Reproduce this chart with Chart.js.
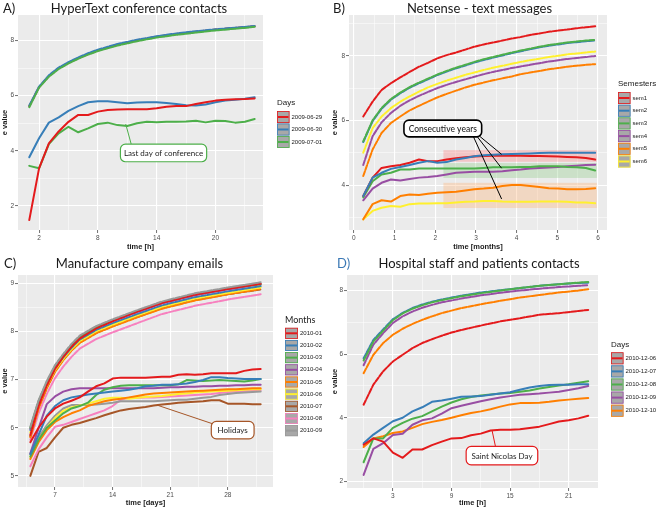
<!DOCTYPE html>
<html>
<head>
<meta charset="utf-8">
<script src="https://cdn.jsdelivr.net/npm/chart.js@4.4.0/dist/chart.umd.min.js"></script>
<style>
  html, body { margin: 0; padding: 0; background: #fff; }
  #wrap { position: relative; width: 660px; height: 510px; }
  #wrap canvas { position: absolute; }
</style>
</head>
<body>
<div id="wrap">
  <canvas id="cA" width="330" height="255" style="left:0;top:0"></canvas>
  <canvas id="cB" width="330" height="255" style="left:330px;top:0"></canvas>
  <canvas id="cC" width="330" height="255" style="left:0;top:255px"></canvas>
  <canvas id="cD" width="330" height="255" style="left:330px;top:255px"></canvas>
</div>
<script>
(() => {
  'use strict';

  // ===== Colores (Set1) =====
  const RED = '#E41A1C', BLUE = '#377EB8', GREEN = '#4DAF4A', PURPLE = '#984EA3',
        ORANGE = '#FF7F00', YELLOW = '#FFF02E', BROWN = '#A65628', PINK = '#F781BF', GREY = '#999999';

  // ===== A) HyperText =====
  const daysA = ['2009-06-29', '2009-06-30', '2009-07-01'];
  const hoursA = [1,2,3,4,5,6,7,8,9,10,11,12,13,14,15,16,17,18,19,20,21,22,23,24];
  const hoursAUp = [1,2,3,4,5,6,7,8,10,12,14,16,18,20,22,24];
  const a0629Up = [5.62,6.31,6.71,6.99,7.19,7.36,7.51,7.64,7.85,8.01,8.14,8.24,8.32,8.40,8.46,8.52];
  const a0630Up = [5.64,6.33,6.74,7.02,7.22,7.39,7.54,7.67,7.88,8.03,8.16,8.26,8.34,8.41,8.47,8.53];
  const a0701Up = [5.58,6.29,6.69,6.97,7.17,7.34,7.49,7.62,7.82,7.98,8.11,8.21,8.29,8.37,8.43,8.50];
  const a0629 = [1.48,3.36,4.27,4.70,5.05,5.30,5.30,5.42,5.48,5.50,5.51,5.51,5.51,5.54,5.60,5.62,5.62,5.70,5.76,5.82,5.85,5.87,5.88,5.90];
  const a0630 = [3.76,4.45,5.02,5.21,5.45,5.62,5.76,5.80,5.80,5.76,5.72,5.75,5.76,5.76,5.73,5.70,5.65,5.64,5.68,5.76,5.82,5.85,5.89,5.94];
  const a0701 = [3.45,3.36,4.24,4.63,4.87,4.67,4.81,4.97,5.02,4.93,4.90,5.00,5.05,5.03,5.05,5.05,5.06,5.09,5.03,5.09,5.08,5.02,5.05,5.15];

  // ===== B) Netsense =====
  const semB = ['sem1', 'sem2', 'sem3', 'sem4', 'sem5', 'sem6'];
  const monthsB = [0.23,0.46,0.68,0.91,1.14,1.37,1.60,1.82,2.05,2.28,2.51,2.74,2.96,3.19,3.42,3.65,3.88,4.10,4.33,4.56,4.79,5.02,5.24,5.47,5.70,5.93];
  const sem1Up = [6.12,6.58,6.94,7.15,7.33,7.50,7.66,7.78,7.92,8.02,8.10,8.19,8.28,8.35,8.41,8.47,8.53,8.58,8.64,8.69,8.74,8.78,8.81,8.85,8.88,8.91];
  const sem2Up = [5.33,5.98,6.36,6.64,6.84,7.01,7.15,7.27,7.40,7.51,7.61,7.70,7.79,7.87,7.94,8.01,8.08,8.14,8.20,8.26,8.31,8.35,8.39,8.42,8.45,8.47];
  const sem3Up = [5.35,6.00,6.38,6.66,6.86,7.03,7.17,7.29,7.42,7.53,7.63,7.72,7.81,7.89,7.96,8.03,8.10,8.16,8.22,8.28,8.33,8.37,8.41,8.44,8.47,8.49];
  const sem4Up = [4.62,5.51,5.94,6.23,6.45,6.62,6.76,6.88,7.00,7.10,7.19,7.27,7.35,7.43,7.50,7.56,7.62,7.67,7.72,7.77,7.82,7.86,7.90,7.93,7.96,7.99];
  const sem5Up = [4.28,5.10,5.61,5.92,6.12,6.31,6.45,6.58,6.71,6.82,6.92,7.02,7.10,7.17,7.24,7.30,7.36,7.43,7.48,7.53,7.58,7.62,7.66,7.69,7.72,7.74];
  const sem6Up = [5.00,5.76,6.12,6.38,6.58,6.74,6.89,7.02,7.13,7.23,7.32,7.41,7.48,7.56,7.63,7.69,7.75,7.81,7.86,7.91,7.96,8.00,8.04,8.07,8.10,8.13];
  const sem1 = [3.66,4.23,4.53,4.58,4.62,4.69,4.79,4.74,4.74,4.79,4.83,4.86,4.88,4.90,4.91,4.91,4.91,4.91,4.90,4.90,4.89,4.88,4.87,4.86,4.84,4.79];
  const sem2 = [3.66,4.23,4.38,4.50,4.56,4.62,4.69,4.74,4.69,4.71,4.79,4.84,4.89,4.92,4.94,4.95,4.96,4.97,4.98,4.99,5.00,5.00,5.00,5.00,5.00,5.00];
  const sem3 = [3.62,4.12,4.33,4.38,4.48,4.48,4.51,4.51,4.51,4.51,4.51,4.51,4.51,4.53,4.55,4.55,4.55,4.56,4.56,4.58,4.58,4.58,4.56,4.55,4.53,4.45];
  const sem4 = [3.53,3.89,4.07,4.17,4.14,4.19,4.23,4.25,4.28,4.33,4.38,4.40,4.41,4.41,4.41,4.43,4.46,4.48,4.51,4.53,4.54,4.56,4.58,4.60,4.62,4.63];
  const sem5 = [2.94,3.41,3.53,3.49,3.66,3.71,3.69,3.73,3.76,3.78,3.79,3.83,3.87,3.89,3.92,3.97,4.00,4.00,3.97,3.94,3.90,3.89,3.87,3.87,3.88,3.90];
  const sem6 = [2.94,3.20,3.30,3.35,3.33,3.41,3.43,3.43,3.44,3.44,3.46,3.48,3.49,3.51,3.51,3.49,3.48,3.48,3.48,3.49,3.49,3.49,3.48,3.46,3.46,3.44];

  // ===== C) Manufacture emails =====
  const monthsC = ['2010-01','2010-02','2010-03','2010-04','2010-05','2010-06','2010-07','2010-08','2010-09'];
  const daysC = [4,5,6,7,8,9,10,11,12,13,14,15,16,17,18,19,20,21,22,23,24,25,26,27,28,29,30,31,32];
  const daysCUp = [4,5,6,7,8,9,10,12,14,17,20,24,28,32];
  const c01Up = [5.85,6.45,6.88,7.22,7.47,7.68,7.85,8.06,8.21,8.41,8.59,8.76,8.88,8.99];
  const c02Up = [5.95,6.50,6.90,7.23,7.46,7.66,7.83,8.03,8.17,8.36,8.54,8.71,8.83,8.94];
  const c03Up = [6.00,6.55,6.95,7.28,7.51,7.72,7.89,8.09,8.23,8.42,8.60,8.77,8.89,8.98];
  const c04Up = [5.98,6.53,6.93,7.26,7.49,7.70,7.87,8.07,8.21,8.40,8.58,8.75,8.87,8.98];
  const c05Up = [5.80,6.40,6.82,7.16,7.40,7.60,7.76,7.96,8.10,8.29,8.47,8.64,8.77,8.88];
  const c06Up = [5.90,6.48,6.88,7.20,7.43,7.63,7.80,8.00,8.14,8.33,8.51,8.68,8.80,8.91];
  const c07Up = [5.82,6.42,6.83,7.17,7.41,7.61,7.77,7.97,8.11,8.30,8.48,8.65,8.77,8.87];
  const c08Up = [5.75,6.30,6.70,7.03,7.27,7.47,7.64,7.84,7.98,8.17,8.36,8.53,8.66,8.77];
  const c09Up = [6.02,6.57,6.97,7.30,7.53,7.74,7.91,8.11,8.25,8.44,8.62,8.79,8.91,9.02];
  const c01 = [5.70,6.00,6.23,6.40,6.50,6.56,6.63,6.75,6.86,6.92,7.02,7.04,7.04,7.04,7.04,7.05,7.06,7.06,7.10,7.11,7.10,7.11,7.13,7.13,7.13,7.13,7.18,7.21,7.22];
  const c02 = [5.45,5.85,6.25,6.45,6.57,6.63,6.66,6.69,6.71,6.73,6.75,6.77,6.79,6.82,6.86,6.87,6.89,6.89,6.90,6.92,6.95,6.99,7.05,7.05,7.03,7.02,7.01,7.01,7.01];
  const c03 = [5.40,5.75,6.00,6.15,6.30,6.40,6.45,6.52,6.68,6.79,6.84,6.87,6.88,6.88,6.88,6.88,6.88,6.88,6.90,6.99,6.98,6.97,6.98,6.99,6.98,6.97,6.96,6.98,7.01];
  const c04 = [5.47,5.99,6.49,6.65,6.75,6.80,6.82,6.82,6.82,6.82,6.82,6.82,6.82,6.82,6.82,6.82,6.83,6.84,6.84,6.85,6.85,6.86,6.86,6.87,6.87,6.88,6.88,6.89,6.89];
  const c05 = [5.35,5.70,5.95,6.12,6.22,6.30,6.36,6.45,6.50,6.55,6.58,6.60,6.63,6.66,6.69,6.71,6.72,6.73,6.74,6.75,6.76,6.77,6.78,6.79,6.80,6.80,6.81,6.82,6.82];
  const c06 = [5.40,5.75,6.00,6.20,6.35,6.42,6.46,6.50,6.55,6.60,6.62,6.62,6.60,6.62,6.64,6.65,6.66,6.68,6.70,6.71,6.73,6.74,6.75,6.76,6.77,6.78,6.79,6.80,6.80];
  const c07 = [5.00,5.50,5.58,5.80,6.00,6.06,6.10,6.15,6.20,6.26,6.31,6.36,6.39,6.41,6.43,6.46,6.48,6.50,6.52,6.53,6.54,6.55,6.57,6.57,6.50,6.50,6.50,6.49,6.49];
  const c08 = [5.20,5.55,5.80,6.02,6.06,6.12,6.18,6.24,6.30,6.36,6.45,6.58,6.62,6.62,6.63,6.63,6.64,6.65,6.66,6.67,6.68,6.69,6.70,6.72,6.74,6.75,6.76,6.77,6.78];
  const c09 = [5.45,5.80,6.05,6.25,6.40,6.47,6.47,6.47,6.48,6.50,6.52,6.55,6.55,6.55,6.55,6.55,6.56,6.57,6.58,6.58,6.60,6.62,6.64,6.68,6.70,6.72,6.73,6.74,6.75];

  // ===== D) Hospital =====
  const daysD = ['2010-12-06','2010-12-07','2010-12-08','2010-12-09','2010-12-10'];
  const hoursD = [0,1,2,3,4,5,6,7,8,9,10,11,12,13,14,15,16,17,18,19,20,21,22,23];
  const hoursDUp = [0,1,2,3,4,5,6,7,8,9,10,12,14,16,18,20,22,23];
  const d06Up = [4.41,5.04,5.46,5.77,5.98,6.19,6.35,6.47,6.58,6.68,6.76,6.90,7.03,7.13,7.24,7.29,7.36,7.39];
  const d07Up = [5.87,6.45,6.78,7.10,7.30,7.45,7.56,7.65,7.72,7.78,7.84,7.94,8.01,8.08,8.15,8.20,8.24,8.25];
  const d08Up = [5.80,6.40,6.74,7.07,7.28,7.43,7.54,7.63,7.70,7.76,7.82,7.92,8.00,8.08,8.15,8.20,8.25,8.27];
  const d09Up = [5.65,6.30,6.66,6.98,7.19,7.34,7.46,7.55,7.63,7.69,7.75,7.85,7.93,8.00,8.06,8.11,8.15,8.17];
  const d10Up = [5.40,5.98,6.35,6.61,6.80,6.95,7.08,7.19,7.29,7.37,7.45,7.57,7.68,7.78,7.86,7.94,8.00,8.04];
  const d06 = [3.15,3.35,3.25,2.90,2.74,3.00,3.00,3.14,3.25,3.35,3.36,3.45,3.50,3.60,3.62,3.62,3.64,3.68,3.72,3.80,3.88,3.92,3.98,4.06];
  const d07 = [3.20,3.47,3.68,3.89,4.00,4.20,4.33,4.50,4.54,4.60,4.66,4.67,4.68,4.72,4.76,4.80,4.88,4.95,5.00,5.03,5.04,5.04,5.05,5.05];
  const d08 = [2.60,3.35,3.35,3.68,3.84,3.97,4.05,4.20,4.35,4.48,4.58,4.65,4.70,4.73,4.76,4.78,4.82,4.86,4.92,4.97,5.01,5.05,5.10,5.15];
  const d09 = [2.20,3.02,3.20,3.46,3.50,3.78,3.92,3.98,4.13,4.30,4.38,4.45,4.52,4.58,4.64,4.68,4.72,4.74,4.76,4.79,4.82,4.87,4.93,5.00];
  const d10 = [3.08,3.35,3.42,3.52,3.57,3.68,3.80,3.87,3.93,4.00,4.08,4.15,4.20,4.27,4.35,4.42,4.46,4.46,4.47,4.50,4.54,4.57,4.60,4.62];

  // ===== Helpers =====
  const line = (xs, ys, color, dashed) => ({
    data: xs.map((x, i) => ({ x, y: ys[i] })),
    borderColor: color,
    borderWidth: 2,
    borderDash: dashed ? [5, 1.5] : [],
    pointRadius: 0,
    fill: false
  });

  function axis(o){
    const major = o.major;
    const all = [...o.major, ...o.minor].sort((a, b) => a - b);
    const isMajor = c => !!c.tick && major.includes(c.tick.value);
    return {
      type: 'linear', position: o.pos, min: o.min, max: o.max,
      afterBuildTicks: s => { s.ticks = all.map(v => ({ value: v })); },
      afterFit: s => { if (o.pos === 'left') s.width = o.size; else s.height = o.size; },
      border: { display: false },
      grid: {
        color: '#FFFFFF',
        lineWidth: c => isMajor(c) ? 1.1 : 0.5,
        tickColor: c => isMajor(c) ? '#4D4D4D' : 'rgba(0,0,0,0)',
        tickLength: 3, tickWidth: 0.8
      },
      ticks: {
        autoSkip: false, maxRotation: 0, padding: 1, color: '#4D4D4D',
        font: { family: 'Liberation Sans', size: 6.5 },
        callback: v => major.includes(v) ? String(v) : ''
      },
      title: {
        display: true, text: o.title, color: '#1a1a1a',
        font: { family: 'Liberation Sans', size: 7.5, weight: 'bold', lineHeight: 1.2 },
        padding: o.tpad
      }
    };
  }

  function makeDeco(cfg){
    return {
      id: 'deco',
      beforeDraw(chart){
        const { ctx, chartArea: a } = chart;
        ctx.save();
        ctx.fillStyle = '#EBEBEB';
        ctx.fillRect(a.left, a.top, a.right - a.left, a.bottom - a.top);
        ctx.restore();
      },
      beforeDatasetsDraw(chart){
        if (!cfg.bands) return;
        const { ctx, scales: { x, y } } = chart;
        ctx.save();
        cfg.bands.forEach(b => {
          const x0 = x.getPixelForValue(b.x0), x1 = x.getPixelForValue(b.x1);
          const y0 = y.getPixelForValue(b.y1), y1 = y.getPixelForValue(b.y0);
          ctx.fillStyle = b.color;
          ctx.fillRect(x0, y0, x1 - x0, y1 - y0);
        });
        ctx.restore();
      },
      afterDatasetsDraw(chart){
        const n = cfg.note;
        const { ctx, scales: { x, y } } = chart;
        ctx.save();
        ctx.strokeStyle = n.color;
        ctx.lineWidth = 1;
        n.lines.forEach(l => {
          ctx.beginPath();
          ctx.moveTo(x.getPixelForValue(l[0]), y.getPixelForValue(l[1]));
          ctx.lineTo(x.getPixelForValue(l[2]), y.getPixelForValue(l[3]));
          ctx.stroke();
        });
        const bx0 = x.getPixelForValue(n.x0), bx1 = x.getPixelForValue(n.x1);
        const by0 = y.getPixelForValue(n.y1), by1 = y.getPixelForValue(n.y0);
        ctx.beginPath();
        ctx.roundRect(bx0, by0, bx1 - bx0, by1 - by0, 5);
        ctx.fillStyle = '#FFFFFF';
        ctx.fill();
        ctx.lineWidth = n.width;
        ctx.stroke();
        ctx.fillStyle = '#222';
        ctx.font = n.font;
        ctx.textAlign = 'center';
        ctx.textBaseline = 'middle';
        ctx.fillText(n.text, (bx0 + bx1) / 2, (by0 + by1) / 2 + 0.5);
        ctx.restore();
      },
      afterDraw(chart){
        const { ctx } = chart;
        ctx.save();
        ctx.textBaseline = 'middle';
        ctx.font = '13px Lato';
        ctx.textAlign = 'left';
        ctx.fillStyle = cfg.letterColor || '#1a1a1a';
        ctx.fillText(cfg.letter, cfg.letterX, cfg.titleY);
        ctx.fillStyle = '#1a1a1a';
        ctx.textAlign = 'center';
        ctx.fillText(cfg.title, cfg.titleX, cfg.titleY);

        // leyenda estilo ggplot
        const g = cfg.legend;
        ctx.textAlign = 'left';
        ctx.font = g.titleFont;
        ctx.fillText(g.title, g.x, g.titleY);
        ctx.font = '6px "Liberation Sans"';
        g.labels.forEach((lab, i) => {
          const cy = g.y0 + i * g.step;
          ctx.fillStyle = '#A8A8A8';
          ctx.fillRect(g.x, cy - g.h / 2, g.w, g.h);
          ctx.strokeStyle = g.colors[i];
          ctx.lineWidth = 0.8;
          ctx.strokeRect(g.x + 0.4, cy - g.h / 2 + 0.4, g.w - 0.8, g.h - 0.8);
          ctx.lineWidth = 2;
          ctx.beginPath();
          ctx.moveTo(g.x + 1, cy);
          ctx.lineTo(g.x + g.w - 1, cy);
          ctx.stroke();
          ctx.fillStyle = '#1a1a1a';
          ctx.fillText(lab, g.x + g.w + 2, cy);
        });
        ctx.restore();
      }
    };
  }

  function makePanel(id, cfg){
    return new Chart(document.getElementById(id), {
      type: 'line',
      data: { datasets: cfg.datasets },
      options: {
        responsive: false, animation: false, events: [],
        layout: { padding: cfg.pad },
        plugins: { legend: { display: false }, tooltip: { enabled: false }, title: { display: false } },
        elements: { line: { tension: 0, borderCapStyle: 'round', borderJoinStyle: 'round' } },
        scales: { x: axis(cfg.x), y: axis(cfg.y) }
      },
      plugins: [makeDeco(cfg)]
    });
  }

  // ===== A =====
  const colA = [RED, BLUE, GREEN];
  makePanel('cA', {
    letter: 'A)', letterX: 3, title: 'HyperText conference contacts', titleX: 139, titleY: 9,
    pad: { left: 0, top: 15, right: 67, bottom: 0 },
    x: { pos: 'bottom', min: -0.15, max: 24.85, major: [2,8,14,20], minor: [5,11,17,23], size: 25, title: 'time [h]', tpad: { top: 0, bottom: 3.5 } },
    y: { pos: 'left', min: 1.12, max: 8.93, major: [2,4,6,8], minor: [3,5,7], size: 18, title: 'e value', tpad: { top: 0.5, bottom: 0 } },
    datasets: [
      line(hoursA, a0629, RED), line(hoursA, a0630, BLUE), line(hoursA, a0701, GREEN),
      line(hoursAUp, a0701Up, GREEN, true), line(hoursAUp, a0630Up, BLUE, true), line(hoursAUp, a0629Up, RED, true)
    ],
    note: { text: 'Last day of conference', color: GREEN, width: 1.2, font: '8px Lato',
            x0: 10.3, x1: 19.1, y0: 3.6, y1: 4.24, lines: [[10.84, 4.97, 11.4, 4.24]] },
    legend: { title: 'Days', titleFont: '8px "Liberation Sans"', x: 277, titleY: 103, y0: 117, step: 12.5, w: 12.5, h: 12, labels: daysA, colors: colA }
  });

  // ===== B =====
  const colB = [RED, BLUE, GREEN, PURPLE, ORANGE, YELLOW];
  makePanel('cB', {
    letter: 'B)', letterX: 3, title: 'Netsense - text messages', titleX: 149.5, titleY: 9,
    pad: { left: 0, top: 15, right: 53, bottom: 0 },
    x: { pos: 'bottom', min: -0.12, max: 6.22, major: [0,1,2,3,4,5,6], minor: [0.5,1.5,2.5,3.5,4.5,5.5], size: 25, title: 'time [months]', tpad: { top: 0, bottom: 3.2 } },
    y: { pos: 'left', min: 2.61, max: 9.26, major: [4,6,8], minor: [3,5,7,9], size: 19, title: 'e value', tpad: { top: 0.5, bottom: 0 } },
    bands: [
      { x0: 2.2, x1: 5.97, y0: 4.72, y1: 5.08, color: 'rgba(255,120,120,0.32)' },
      { x0: 2.2, x1: 5.97, y0: 4.22, y1: 4.68, color: 'rgba(130,200,120,0.30)' },
      { x0: 2.2, x1: 5.97, y0: 3.29, y1: 4.07, color: 'rgba(255,170,100,0.30)' }
    ],
    datasets: [
      line(monthsB, sem2, BLUE), line(monthsB, sem1, RED), line(monthsB, sem3, GREEN), line(monthsB, sem4, PURPLE),
      line(monthsB, sem5, ORANGE), line(monthsB, sem6, YELLOW),
      line(monthsB, sem1Up, RED, true), line(monthsB, sem3Up, GREEN, true), line(monthsB, sem2Up, BLUE, true),
      line(monthsB, sem6Up, YELLOW, true), line(monthsB, sem4Up, PURPLE, true), line(monthsB, sem5Up, ORANGE, true)
    ],
    note: { text: 'Consecutive years', color: '#000', width: 1.6, font: '500 8.5px Lato',
            x0: 1.23, x1: 3.14, y0: 5.49, y1: 6.01,
            lines: [[2.93, 5.52, 3.63, 3.57], [3.03, 5.5, 3.63, 4.52], [3.1, 5.5, 3.63, 4.95]] },
    legend: { title: 'Semesters', titleFont: '8px "Liberation Sans"', x: 288, titleY: 84, y0: 98, step: 12.7, w: 12.5, h: 12, labels: semB, colors: colB }
  });

  // ===== C =====
  const colC = [RED, BLUE, GREEN, PURPLE, ORANGE, YELLOW, BROWN, PINK, GREY];
  makePanel('cC', {
    letter: 'C)', letterX: 4, title: 'Manufacture company emails', titleX: 139.5, titleY: 8.5,
    pad: { left: 0, top: 20, right: 57, bottom: 0 },
    x: { pos: 'bottom', min: 2.5, max: 33.5, major: [7,14,21,28], minor: [3.5,10.5,17.5,24.5,31.5], size: 23, title: 'time [days]', tpad: { top: 0, bottom: 2.8 } },
    y: { pos: 'left', min: 4.77, max: 9.17, major: [5,6,7,8,9], minor: [5.5,6.5,7.5,8.5], size: 18, title: 'e value', tpad: { top: 0.5, bottom: 0 } },
    datasets: [
      line(daysC, c01, RED), line(daysC, c02, BLUE), line(daysC, c03, GREEN), line(daysC, c04, PURPLE),
      line(daysC, c05, ORANGE), line(daysC, c06, YELLOW), line(daysC, c09, GREY), line(daysC, c08, PINK), line(daysC, c07, BROWN),
      line(daysCUp, c09Up, GREY, true), line(daysCUp, c01Up, RED, true), line(daysCUp, c03Up, GREEN, true), line(daysCUp, c04Up, PURPLE, true),
      line(daysCUp, c02Up, BLUE, true), line(daysCUp, c06Up, YELLOW, true), line(daysCUp, c05Up, ORANGE, true),
      line(daysCUp, c07Up, BROWN, true), line(daysCUp, c08Up, PINK, true)
    ],
    note: { text: 'Holidays', color: BROWN, width: 1.2, font: '8px Lato',
            x0: 26.0, x1: 31.2, y0: 5.77, y1: 6.13, lines: [[19.4, 6.47, 26.2, 6.08]] },
    legend: { title: 'Months', titleFont: '9px Lato', x: 285, titleY: 65, y0: 78.3, step: 12.17, w: 13, h: 11, labels: monthsC, colors: colC }
  });

  // ===== D =====
  const colD = [RED, BLUE, GREEN, PURPLE, ORANGE];
  makePanel('cD', {
    letter: 'D)', letterX: 7, letterColor: '#3A78B5', title: 'Hospital staff and patients contacts', titleX: 149, titleY: 8.5,
    pad: { left: 0, top: 20, right: 62, bottom: 0 },
    x: { pos: 'bottom', min: -1.7, max: 24, major: [3,9,15,21], minor: [0,6,12,18,24], size: 22, title: 'time [h]', tpad: { top: 0, bottom: 2.2 } },
    y: { pos: 'left', min: 1.79, max: 8.49, major: [2,4,6,8], minor: [3,5,7], size: 17, title: 'e value', tpad: { top: 0.5, bottom: 0 } },
    datasets: [
      line(hoursD, d06, RED), line(hoursD, d07, BLUE), line(hoursD, d08, GREEN), line(hoursD, d09, PURPLE), line(hoursD, d10, ORANGE),
      line(hoursDUp, d08Up, GREEN, true), line(hoursDUp, d07Up, BLUE, true), line(hoursDUp, d09Up, PURPLE, true),
      line(hoursDUp, d10Up, ORANGE, true), line(hoursDUp, d06Up, RED, true)
    ],
    note: { text: 'Saint Nicolas Day', color: RED, width: 1.2, font: '8px Lato',
            x0: 10.5, x1: 17.83, y0: 2.52, y1: 3.1, lines: [[13.16, 3.59, 13.5, 3.1]] },
    legend: { title: 'Days', titleFont: '8px "Liberation Sans"', x: 281, titleY: 90, y0: 103.3, step: 13.1, w: 12.5, h: 12, labels: daysD, colors: colD }
  });
})();
</script>
</body>
</html>
